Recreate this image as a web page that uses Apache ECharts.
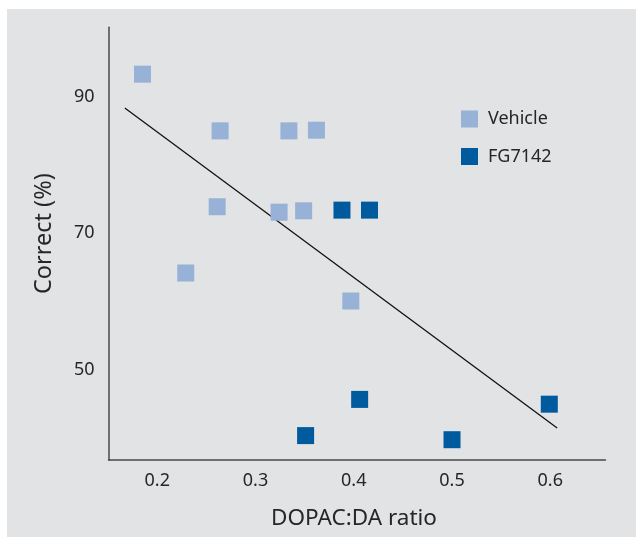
<!DOCTYPE html>
<html>
<head>
<meta charset="utf-8">
<script src="https://cdn.jsdelivr.net/npm/echarts@6/dist/echarts.min.js"></script>
<style>
html,body{margin:0;padding:0;background:#ffffff;}
#panel{position:absolute;left:7px;top:9px;width:629px;height:528px;background:#e2e3e5;}
#chart{position:absolute;left:0;top:0;width:636px;height:537px;}
</style>
</head>
<body>
<div id="panel"></div>
<div id="chart"></div>
<script>
// DOPAC:DA ratio (x) and Correct (%) (y)
const vehicleX = [0.185, 0.229, 0.261, 0.264, 0.324, 0.334, 0.349, 0.362, 0.397];
const vehicleY = [93.3, 64.2, 73.9, 85.0, 73.1, 85.0, 73.3, 85.1, 60.1];
const fgX = [0.388, 0.416, 0.351, 0.406, 0.500, 0.599];
const fgY = [73.4, 73.4, 40.4, 45.7, 39.8, 45.0];
const trendX = [0.167, 0.607];
const trendY = [88.35, 41.5];
const xTicks = [0.2, 0.3, 0.4, 0.5, 0.6];
const yTicks = [50, 70, 90];

const zip = (a, b) => a.map((v, i) => [v, b[i]]);
const font = '"Noto Sans", sans-serif';
const txt = '#262626';

const chart = echarts.init(document.getElementById('chart'), null, {renderer: 'canvas'});
chart.setOption({
  backgroundColor: 'transparent',
  animation: false,
  grid: {left: 108.5, right: 30.5, top: 27.3, bottom: 77, containLabel: false},
  legend: {
    orient: 'vertical', left: 461, top: 110, itemWidth: 17, itemHeight: 17, itemGap: 19.5,
    icon: 'rect', padding: 0,
    textStyle: {fontFamily: font, fontSize: 18, color: txt, padding: [0, 0, 0, 5]},
    data: ['Vehicle', 'FG7142']
  },
  xAxis: {
    type: 'value', min: 0.1504, max: 0.6562,
    name: 'DOPAC:DA ratio', nameLocation: 'middle', nameGap: 47,
    nameTextStyle: {fontFamily: font, fontSize: 22.5, color: txt, padding: [0, 6, 0, 0]},
    axisLine: {show: true, onZero: false, lineStyle: {color: '#4a4a4a', width: 1.5}},
    axisTick: {show: false},
    splitLine: {show: false},
    axisLabel: {customValues: xTicks, formatter: v => v.toFixed(1), fontFamily: font, fontSize: 18, color: txt, margin: 12}
  },
  yAxis: {
    type: 'value', min: 36.83, max: 100.16,
    name: 'Correct (%)', nameLocation: 'middle', nameGap: 52, nameRotate: 90,
    nameTextStyle: {fontFamily: font, fontSize: 23.5, color: txt, padding: [0, 0, 0, 20]},
    axisLine: {show: true, onZero: false, lineStyle: {color: '#4a4a4a', width: 1.5}},
    axisTick: {show: false},
    splitLine: {show: false},
    axisLabel: {customValues: yTicks, fontFamily: font, fontSize: 18, color: txt, margin: 14}
  },
  series: [
    {
      name: 'trend', type: 'line', data: zip(trendX, trendY), symbol: 'none',
      lineStyle: {color: '#111111', width: 1.3}, z: 1, silent: true
    },
    {
      name: 'Vehicle', type: 'scatter', data: zip(vehicleX, vehicleY), symbol: 'rect', symbolSize: 17,
      itemStyle: {color: '#98b1d7', opacity: 1}, z: 2
    },
    {
      name: 'FG7142', type: 'scatter', data: zip(fgX, fgY), symbol: 'rect', symbolSize: 17,
      itemStyle: {color: '#005a9e', opacity: 1}, z: 3
    }
  ]
});
</script>
</body>
</html>
